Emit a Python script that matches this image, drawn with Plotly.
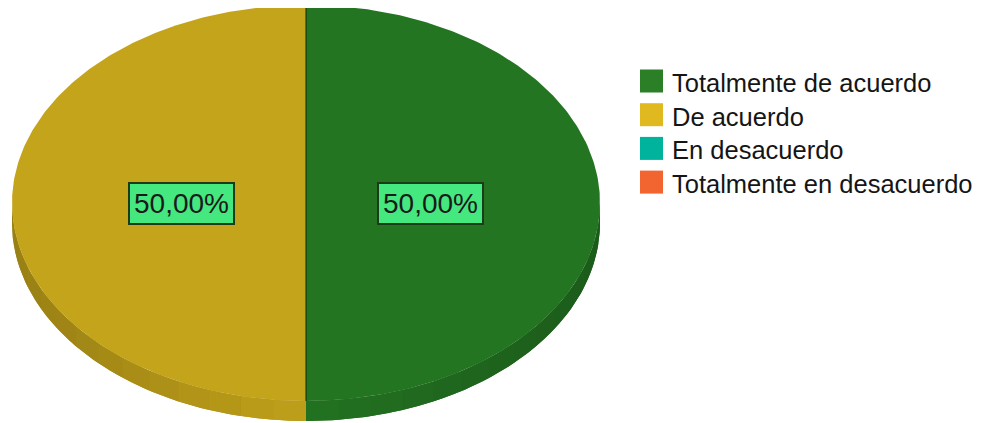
import numpy as np
import plotly.graph_objects as go

categories = ["Totalmente de acuerdo", "De acuerdo", "En desacuerdo", "Totalmente en desacuerdo"]
values = [50, 50, 0, 0]
labels_text = ["50,00%", "50,00%", "", ""]

face_colors = ["#247522", "#C4A41B", "#00A892", "#E55E28"]
legend_colors = ["#2B7F27", "#E0B820", "#00B39C", "#F26530"]

# page body has an 8px margin; map axes to window pixel coordinates
OFF = 8
W, H = 984, 423
cx, cy, rx, ry, depth = 306, 203, 294, 198, 20


def hex_to_rgb(h):
    h = h.lstrip("#")
    return [int(h[i:i + 2], 16) for i in (0, 2, 4)]


def shade(h, f):
    r, g, b = hex_to_rgb(h)
    return "rgb(%d,%d,%d)" % (int(r * f), int(g * f), int(b * f))


fig = go.Figure()

total = sum(values)
cum = 0.0
slices = []
for v in values:
    a = cum / total * 2 * np.pi
    cum += v
    b = cum / total * 2 * np.pi
    slices.append((a, b))


def pt(theta, dy=0.0):
    return cx + rx * np.sin(theta), cy - ry * np.cos(theta) + dy


def side_poly(t0, t1, n=40):
    th = np.linspace(t0, t1, n)
    xs1, ys1 = pt(th)
    xs2, ys2 = pt(th[::-1], depth)
    return np.concatenate([xs1, xs2]), np.concatenate([ys1, ys2])


# sides (visible lower half), base layer plus shaded bands
NB = 14
for i, (a, b) in enumerate(slices):
    if values[i] <= 0:
        continue
    lo, hi = max(a, np.pi / 2), min(b, 3 * np.pi / 2)
    if hi <= lo:
        continue
    xs, ys = side_poly(lo, hi, 160)
    fig.add_trace(go.Scatter(x=xs, y=ys, fill="toself", mode="lines", line=dict(width=0),
                             fillcolor=shade(face_colors[i], 0.88), showlegend=False,
                             hoverinfo="skip"))
    edges = np.linspace(lo, hi, NB + 1)
    for k in range(NB):
        mid = (edges[k] + edges[k + 1]) / 2
        f = 0.98 - 0.2 * abs(np.sin(mid))
        xs, ys = side_poly(edges[k], edges[k + 1], 20)
        fig.add_trace(go.Scatter(x=xs, y=ys, fill="toself", mode="lines", line=dict(width=0),
                                 fillcolor=shade(face_colors[i], f), showlegend=False,
                                 hoverinfo="skip"))

# top faces
for i, (a, b) in enumerate(slices):
    if values[i] <= 0:
        continue
    th = np.linspace(a, b, 240)
    xs, ys = pt(th)
    xs = np.concatenate([[cx], xs, [cx]])
    ys = np.concatenate([[cy], ys, [cy]])
    fig.add_trace(go.Scatter(x=xs, y=ys, fill="toself", mode="lines", line=dict(width=0),
                             fillcolor=face_colors[i], showlegend=False,
                             name=categories[i], hoverinfo="name"))

# slice boundary lines
for i, (a, b) in enumerate(slices):
    if values[i] <= 0:
        continue
    x0, y0 = pt(a)
    fig.add_trace(go.Scatter(x=[cx, x0], y=[cy, y0], mode="lines",
                             line=dict(color="#15260f", width=1), showlegend=False, hoverinfo="skip"))

# slice labels
for i, (a, b) in enumerate(slices):
    if values[i] <= 0 or not labels_text[i]:
        continue
    m = (a + b) / 2
    lx = cx + 0.4235 * rx * np.sin(m)
    ly = cy - 0.4235 * ry * np.cos(m)
    fig.add_annotation(x=lx, y=ly, text=labels_text[i], showarrow=False,
                       font=dict(family="Liberation Sans", size=28, color="#1a1a1a"),
                       bgcolor="#44E87F", bordercolor="#1B3B1B", borderwidth=2, borderpad=4)

# legend (drawn manually for exact sizing)
leg_x, leg_y0, leg_dy, sq = 640, 81, 33.7, 23
for i, c in enumerate(categories):
    yc = leg_y0 + i * leg_dy
    fig.add_shape(type="rect", x0=leg_x, x1=leg_x + sq, y0=yc - sq / 2, y1=yc + sq / 2,
                  fillcolor=legend_colors[i], line=dict(width=0), layer="above")
    fig.add_annotation(x=leg_x + sq + 7, y=yc + 2, text=c, showarrow=False, xanchor="left",
                       yanchor="middle",
                       font=dict(family="Liberation Sans", size=25.5, color="#151515"))

fig.update_layout(
    width=W - OFF, height=H - OFF, margin=dict(l=0, r=0, t=0, b=0),
    paper_bgcolor="white", plot_bgcolor="white",
    xaxis=dict(range=[OFF, W], visible=False, fixedrange=True),
    yaxis=dict(range=[H, OFF], visible=False, fixedrange=True),
    showlegend=False,
)

fig.write_html("out.html")
